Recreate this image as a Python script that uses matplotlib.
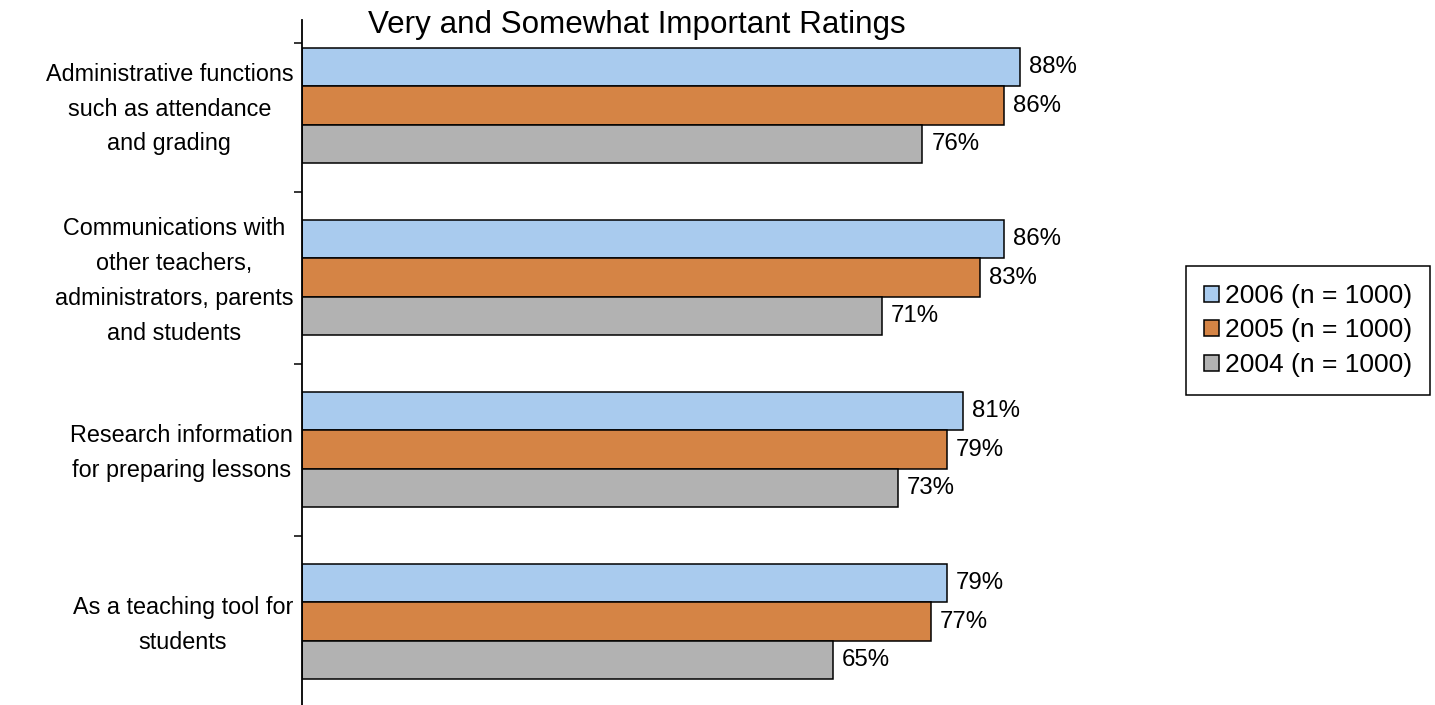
import numpy as np
import matplotlib
matplotlib.use("Agg")
from matplotlib import pyplot as plt
from matplotlib.transforms import ScaledTranslation

plt.rcParams['font.family'] = ['Liberation Sans', 'DejaVu Sans']

# survey categories, top to bottom
categories = ["Administrative functions\nsuch as attendance\nand grading",
              "Communications with\nother teachers,\nadministrators, parents\nand students",
              "Research information\nfor preparing lessons",
              "As a teaching tool for\nstudents"]
years = ["2006 (n = 1000)", "2005 (n = 1000)", "2004 (n = 1000)"]
pct_2006 = [88, 86, 81, 79]
pct_2005 = [86, 83, 79, 77]
pct_2004 = [76, 71, 73, 65]
colors = ["#A9CBEE", "#D58445", "#B2B2B2"]

fig = plt.figure(figsize=(14.35, 7.05), dpi=100)
ax = fig.add_axes([301.5/1435, -2.5/705, 817/1435, 688/705])

ypos = np.arange(len(categories))
bh = 0.2229
for k, (vals, col, lab) in enumerate(zip([pct_2006, pct_2005, pct_2004], colors, years)):
    yy = ypos + (k - 1) * bh
    ax.barh(yy, vals, height=bh, color=col, edgecolor='black', linewidth=1.1, label=lab)
    for y, v in zip(yy, vals):
        ax.text(v + 1.1, y, "%d%%" % v, va='center', ha='left', fontsize=17.3)

ax.set_xlim(0, 100)
ax.set_ylim(len(categories) - 0.5, -0.5)

ax.set_yticks(ypos)
ax.set_yticklabels(categories, fontsize=16.8, multialignment='center', linespacing=1.66)
ax.tick_params(axis='y', which='major', length=0, pad=6)
# nudge the category labels up a little
for lbl in ax.get_yticklabels():
    lbl.set_transform(lbl.get_transform() + ScaledTranslation(0, 3.5/72, fig.dpi_scale_trans))
ax.set_yticks([-0.363, 0.5, 1.5, 2.5, 3.5], minor=True)
ax.tick_params(axis='y', which='minor', length=6, width=1.1, direction='out')

ax.xaxis.set_visible(False)
for s in ['top', 'right', 'bottom']:
    ax.spines[s].set_visible(False)
ax.spines['left'].set_linewidth(1.3)

fig.text(637/1435, 1 - 25/705, "Very and Somewhat Important Ratings", ha='center', va='center', fontsize=22.6)

leg = fig.legend(loc='upper left', bbox_to_anchor=(1186/1435, 1 - 266/705), fontsize=19,
                 frameon=True, fancybox=False, edgecolor='black', framealpha=1,
                 handlelength=0.57, handleheight=0.57, handletextpad=0.22,
                 borderpad=0.68, labelspacing=0.4, borderaxespad=0)
leg.get_frame().set_linewidth(1.1)

fig.savefig("out.png", dpi=100)
